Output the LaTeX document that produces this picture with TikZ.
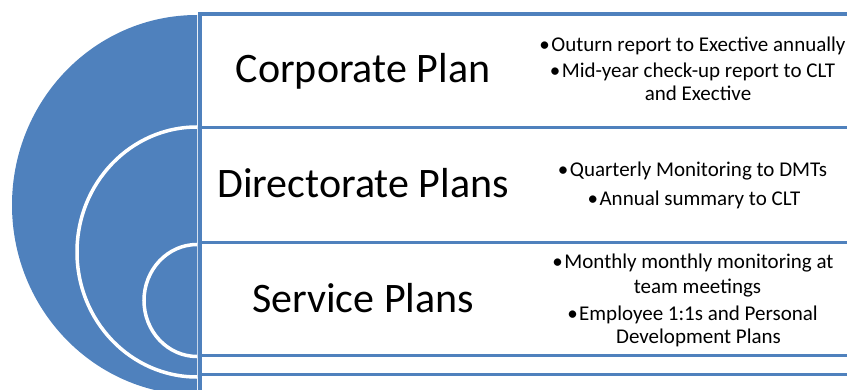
\documentclass[tikz,border=0pt]{standalone}
\usepackage{fontspec}
\setmainfont{Carlito}
\definecolor{accblue}{HTML}{4F81BD}
\newcommand{\bl}{•\hspace{1.5pt}}
\begin{document}
\begin{tikzpicture}[x=1pt,y=-1pt,
  band/.style={draw=accblue,line width=3.5pt,fill=white},
  ring/.style={fill=accblue,draw=white,line width=3.5pt},
  big/.style={font=\fontsize{42}{50}\selectfont,anchor=base,inner sep=0pt},
  blt/.style={font=\fontsize{21}{25}\selectfont,anchor=base,inner sep=0pt}]
\useasboundingbox (0,0) rectangle (847,390);
\clip (0,0) rectangle (847,390);
% nested half-targets
\begin{scope}
  \clip (0,0) rectangle (197.2,400);
  \fill[accblue] (197,205) ellipse [x radius=185, y radius=190];
  \draw[ring] (197,252) ellipse [x radius=120, y radius=125];
  \draw[ring] (197,300.5) ellipse [x radius=53, y radius=56];
\end{scope}
% text bands
\draw[band] (200,14) rectangle (880,396);
\draw[band] (200,127.5) rectangle (880,374.5);
\draw[band] (200,242.5) rectangle (880,355.5);
% labels
\node[big] (corp) at (363,83) {Corporate Plan};
\node[big] (dir) at (363,198) {Directorate Plans};
\node[big] (serv) at (363,313) {Service Plans};
% bullets
\node[blt] (b1a) at (692.5,52) {\bl Outurn report to Exective annually};
\node[blt] (b1b) at (692.5,78) {\bl Mid-year check-up report to CLT};
\node[blt] (b1c) at (698,101) {and Exective};
\node[blt] (b2a) at (692.5,177) {\bl Quarterly Monitoring to DMTs};
\node[blt] (b2b) at (694,206) {\bl Annual summary to CLT};
\node[blt] (b3a) at (693,269) {\bl Monthly monthly monitoring at};
\node[blt] (b3b) at (697.5,293.5) {team meetings};
\node[blt] (b3c) at (692.5,321) {\bl Employee 1:1s and Personal};
\node[blt] (b3d) at (698.5,344) {Development Plans};
\end{tikzpicture}
\end{document}
